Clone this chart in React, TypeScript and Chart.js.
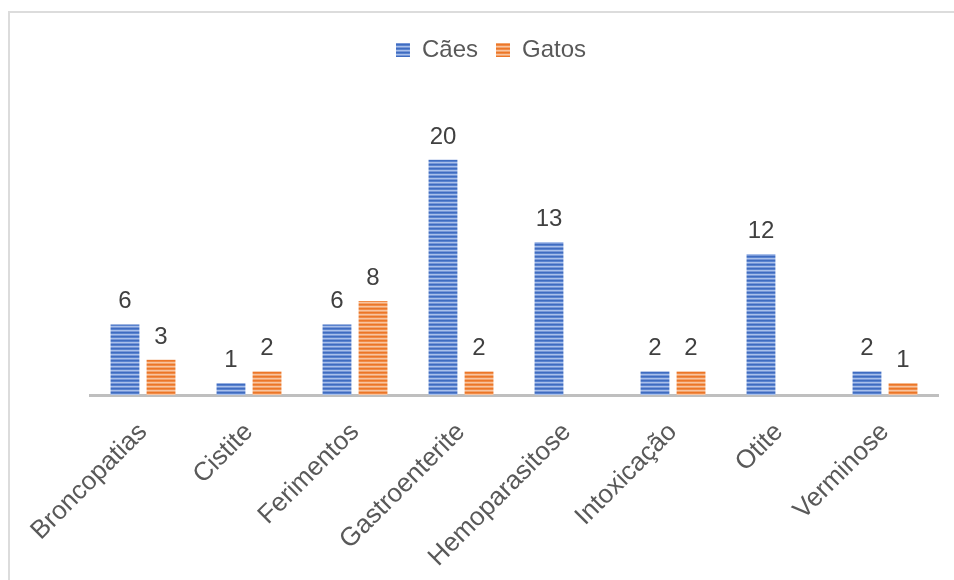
import React, { useEffect, useRef } from "react";
import { Chart, registerables } from "chart.js";

Chart.register(...registerables);

const categories = [
  "Broncopatias",
  "Cistite",
  "Ferimentos",
  "Gastroenterite",
  "Hemoparasitose",
  "Intoxicação",
  "Otite",
  "Verminose",
];
const caesValues: (number | null)[] = [6, 1, 6, 20, 13, 2, 12, 2];
const gatosValues: (number | null)[] = [3, 2, 8, 2, null, 2, null, 1];
const seriesNames = ["Cães", "Gatos"];

const FONT = "'Liberation Sans', Arial, sans-serif";

function stripePattern(colors: string[]): CanvasPattern | string {
  const c = document.createElement("canvas");
  c.width = 4;
  c.height = colors.length;
  const ctx = c.getContext("2d");
  if (!ctx) return colors[0];
  colors.forEach((col, i) => {
    ctx.fillStyle = col;
    ctx.fillRect(0, i, 4, 1);
  });
  return ctx.createPattern(c, "repeat") || colors[0];
}

const borderPlugin = {
  id: "outerBorder",
  beforeDraw(chart: any) {
    const ctx = chart.ctx;
    ctx.save();
    ctx.fillStyle = "#ffffff";
    ctx.fillRect(0, 0, chart.width, chart.height);
    ctx.fillStyle = "#dcdcdc";
    ctx.fillRect(8, 11, 2, chart.height - 11);
    ctx.fillRect(8, 11, chart.width - 8, 2);
    ctx.restore();
  },
};

const dataLabelPlugin = {
  id: "barValueLabels",
  afterDatasetsDraw(chart: any) {
    const ctx = chart.ctx;
    ctx.save();
    ctx.font = `24px ${FONT}`;
    ctx.fillStyle = "#404040";
    ctx.textAlign = "center";
    ctx.textBaseline = "alphabetic";
    chart.data.datasets.forEach((ds: any, di: number) => {
      const meta = chart.getDatasetMeta(di);
      meta.data.forEach((bar: any, i: number) => {
        const v = ds.data[i];
        if (v === null || v === undefined) return;
        ctx.fillText(String(v), bar.x, bar.y - 16);
      });
    });
    ctx.restore();
  },
};

export default function App() {
  const ref = useRef<HTMLCanvasElement | null>(null);

  useEffect(() => {
    if (!ref.current) return;
    const blue = stripePattern(["#3f6cc0", "#5a83cf", "#a9c0ea", "#7797d8"]);
    const orange = stripePattern(["#ec7628", "#f08c48", "#f8c4a0", "#f3a46c"]);
    const chart = new Chart(ref.current, {
      type: "bar",
      data: {
        labels: categories,
        datasets: [
          {
            label: seriesNames[0],
            data: caesValues,
            backgroundColor: blue as any,
            borderWidth: 0,
            categoryPercentage: 0.68,
            barPercentage: 0.8,
          },
          {
            label: seriesNames[1],
            data: gatosValues,
            backgroundColor: orange as any,
            borderWidth: 0,
            categoryPercentage: 0.68,
            barPercentage: 0.8,
          },
        ],
      },
      options: {
        responsive: false,
        animation: false,
        layout: { padding: { top: 20, left: 44, right: 16, bottom: 0 } },
        plugins: {
          tooltip: { enabled: false },
          legend: {
            display: true,
            position: "top",
            labels: {
              boxWidth: 14,
              boxHeight: 14,
              padding: 18,
              color: "#595959",
              font: { size: 24, family: FONT },
            },
          },
          title: {
            display: true,
            text: "",
            position: "top",
            weight: 500,
            padding: 0,
            font: { size: 10, lineHeight: "29px" as any },
          } as any,
        },
        scales: {
          x: {
            grid: { display: false },
            border: { display: true, color: "#bfbfbf", width: 3 },
            ticks: {
              color: "#595959",
              font: { size: 26, family: FONT },
              minRotation: 45,
              maxRotation: 45,
              padding: 14,
              autoSkip: false,
            },
            afterFit: (scale: any) => {
              scale.height = 185;
            },
          },
          y: {
            min: 0,
            max: 25,
            grid: { display: false },
            border: { display: false },
            ticks: { display: false },
            afterFit: (scale: any) => {
              scale.width = 46;
            },
          },
        },
      },
      plugins: [borderPlugin, dataLabelPlugin],
    });
    return () => chart.destroy();
  }, []);

  return (
    <div style={{ position: "fixed", left: 0, top: 0, width: 954, height: 580 }}>
      <canvas ref={ref} width={954} height={580} style={{ display: "block" }} />
    </div>
  );
}
